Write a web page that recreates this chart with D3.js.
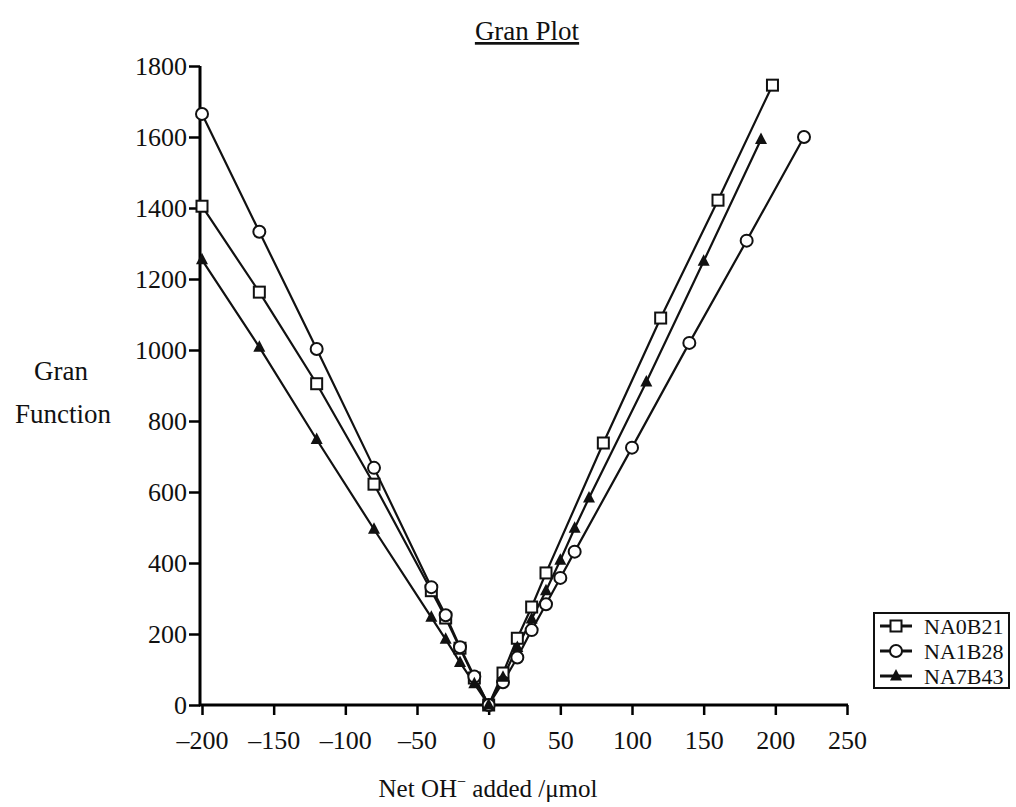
<!DOCTYPE html>
<html>
<head>
<meta charset="utf-8">
<script src="https://cdn.jsdelivr.net/npm/d3@7"></script>
<style>
body{margin:0;background:#fff;}
text{font-family:"Liberation Serif","Times New Roman",serif;fill:#111;}
</style>
</head>
<body>
<svg id="chart" width="1016" height="807"></svg>
<script>
// data
var xTicks = [-200,-150,-100,-50,0,50,100,150,200,250];
var yTicks = [0,200,400,600,800,1000,1200,1400,1600,1800];
var seriesNames = ['NA0B21','NA1B28','NA7B43'];

var na0b21X = [-200,-160,-120,-80,-40,-30,-20,-10,0,10,20,30,40,80,120,160,198];
var na0b21Y = [1405,1163,905,622,322,245,160,76,0,90,188,276,372,738,1090,1422,1746];

var na1b28X = [-200,-160,-120,-80,-40,-30,-20,-10,0,10,20,30,40,50,60,100,140,180,220];
var na1b28Y = [1665,1333,1003,668,332,253,163,80,0,64,134,211,284,358,432,725,1020,1308,1600];

var na7b43X = [-200,-160,-120,-80,-40,-30,-20,-10,0,10,20,30,40,50,60,70,110,150,190];
var na7b43Y = [1254,1008,748,495,247,185,120,60,0,78,162,242,322,408,498,583,910,1250,1593];

var svg = d3.select('#chart');

var x = d3.scaleLinear().domain([-200,250]).range([202,847]);
var y = d3.scaleLinear().domain([0,1800]).range([705,66]);

function pack(xs, ys){
	var out = [];
	for(var i = 0; i < xs.length; i++){
		out.push({x: xs[i], y: ys[i]});
	}
	return out;
}

var series = [
	{name: seriesNames[0], pts: pack(na0b21X, na0b21Y), mark: 'square'},
	{name: seriesNames[1], pts: pack(na1b28X, na1b28Y), mark: 'circle'},
	{name: seriesNames[2], pts: pack(na7b43X, na7b43Y), mark: 'triangle'}
];

var serif = '"Liberation Serif", "Times New Roman", serif';

// title
svg.append('text')
	.attr('x', 527).attr('y', 40)
	.attr('text-anchor', 'middle')
	.attr('font-size', '27px')
	.attr('text-decoration', 'underline')
	.text('Gran Plot');

// axes
var xAxis = d3.axisBottom(x).tickValues(xTicks).tickSize(10)
	.tickFormat(function(d){ return d < 0 ? '\u2013' + (-d) : d; });
var gx = svg.append('g').attr('transform', 'translate(0,705)').call(xAxis);
gx.select('.domain').attr('d', 'M199,0H848').attr('stroke-width', 3);
gx.selectAll('.tick line').attr('stroke-width', 2.5);
gx.selectAll('.tick text').attr('font-size', '26px').attr('y', 44).attr('dy', 0)
	.attr('font-family', serif).attr('fill', '#111');

var yAxis = d3.axisLeft(y).tickValues(yTicks).tickSize(11).tickFormat(d3.format('d'));
var gy = svg.append('g').attr('transform', 'translate(200,0)').call(yAxis);
gy.select('.domain').attr('d', 'M0,66V706').attr('stroke-width', 3);
gy.selectAll('.tick line').attr('stroke-width', 2.5);
gy.selectAll('.tick text').attr('font-size', '26px').attr('x', -13).attr('dy', '0.34em')
	.attr('font-family', serif).attr('fill', '#111');

// axis titles
svg.append('text').attr('x', 61).attr('y', 380).attr('text-anchor', 'middle')
	.attr('font-size', '27px').text('Gran');
svg.append('text').attr('x', 63).attr('y', 423).attr('text-anchor', 'middle')
	.attr('font-size', '27px').text('Function');

var xl = svg.append('text').attr('x', 488).attr('y', 797).attr('text-anchor', 'middle')
	.attr('font-size', '25px');
xl.append('tspan').text('Net OH');
xl.append('tspan').attr('dy', -10).attr('font-size', '16px').text('\u2212');
xl.append('tspan').attr('dy', 10).text(' added /\u03bcmol');

// lines
var line = d3.line().x(function(d){ return x(d.x); }).y(function(d){ return y(d.y); });

function drawMark(g, type, cx, cy){
	if(type == 'square'){
		g.append('rect').attr('x', cx - 5.5).attr('y', cy - 5.5).attr('width', 11).attr('height', 11)
			.attr('fill', '#fff').attr('stroke', '#111').attr('stroke-width', 2);
	}
	else if(type == 'circle'){
		g.append('circle').attr('cx', cx).attr('cy', cy).attr('r', 6)
			.attr('fill', '#fff').attr('stroke', '#111').attr('stroke-width', 2);
	}
	else{
		g.append('path').attr('d', 'M' + cx + ',' + (cy - 7) + 'L' + (cx + 6) + ',' + (cy + 4.5) + 'L' + (cx - 6) + ',' + (cy + 4.5) + 'Z')
			.attr('fill', '#111');
	}
}

for(let s of series){
	var left = s.pts.filter(function(d){ return d.x <= 0; });
	var right = s.pts.filter(function(d){ return d.x >= 0; });
	svg.append('path').datum(left).attr('d', line)
		.attr('fill', 'none').attr('stroke', '#111').attr('stroke-width', 2.2);
	svg.append('path').datum(right).attr('d', line)
		.attr('fill', 'none').attr('stroke', '#111').attr('stroke-width', 2.2);
}

for(let s of series){
	var g = svg.append('g');
	for(let p of s.pts){
		drawMark(g, s.mark, x(p.x), y(p.y));
	}
}

// legend
var lg = svg.append('g');
lg.append('rect').attr('x', 874).attr('y', 613).attr('width', 135).attr('height', 75)
	.attr('fill', '#fff').attr('stroke', '#111').attr('stroke-width', 2);
series.forEach(function(s, i){
	var ly = 626 + i * 25;
	lg.append('line').attr('x1', 880).attr('x2', 912).attr('y1', ly).attr('y2', ly)
		.attr('stroke', '#111').attr('stroke-width', 3);
	drawMark(lg, s.mark, 896, ly);
	lg.append('text').attr('x', 924).attr('y', ly + 8).attr('font-size', '22px').text(s.name);
});
</script>
</body>
</html>
